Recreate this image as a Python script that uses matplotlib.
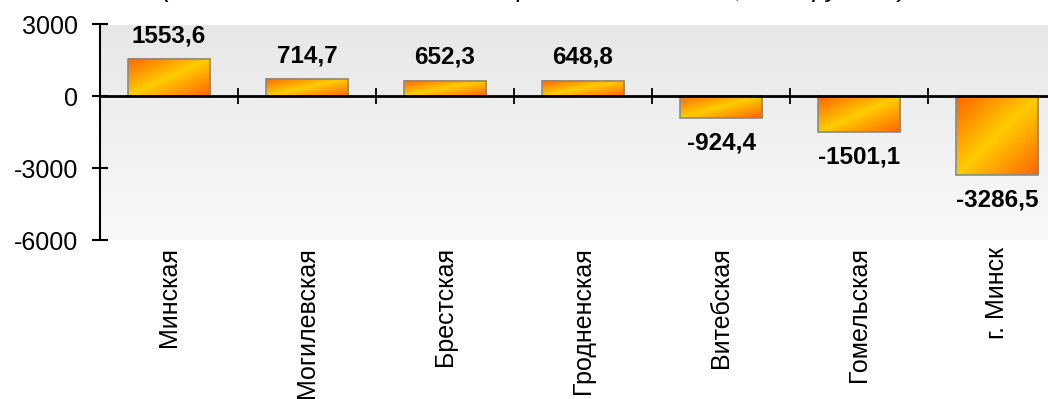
import matplotlib
matplotlib.use("Agg")
import matplotlib.pyplot as plt
import numpy as np
from matplotlib.colors import LinearSegmentedColormap

regions = ["Минская", "Могилевская", "Брестская", "Гродненская",
           "Витебская", "Гомельская", "г. Минск"]
values = [1553.6, 714.7, 652.3, 648.8, -924.4, -1501.1, -3286.5]
value_labels = ["1553,6", "714,7", "652,3", "648,8", "-924,4", "-1501,1", "-3286,5"]
y_ticks = [-6000, -3000, 0, 3000]
title = "(отклонение областей от среднего значения, млн. рублей)"

plt.rcParams["font.family"] = ["Liberation Sans", "DejaVu Sans"]
fs = 18

fig = plt.figure(figsize=(10.48, 3.99), dpi=100)
ax = fig.add_axes([100 / 1048, 159 / 399, 966 / 1048, 215.5 / 399])

# plot area background, light gray fading to white
bg_cmap = LinearSegmentedColormap.from_list("bg", ["#e7e7e7", "#f9f9f9"])
ax.imshow(np.linspace(0, 1, 256).reshape(-1, 1), cmap=bg_cmap, aspect="auto",
          extent=(0, 1, 0, 1), transform=ax.transAxes, zorder=0)

# bars with diagonal orange-yellow-orange fill
bar_cmap = LinearSegmentedColormap.from_list("bar", ["#ff6400", "#ffcc00", "#ff6400"])
n = 200
uu, ww = np.meshgrid(np.linspace(0, 1, n), np.linspace(0, 1, n))
grad = (uu + ww) / 2

x = np.arange(len(regions))
bars = ax.bar(x, values, width=0.6, facecolor="none", edgecolor="#8a8a8a",
              linewidth=1.2, zorder=3)
for b in bars:
    x0, y0 = b.get_x(), b.get_y()
    x1, y1 = x0 + b.get_width(), y0 + b.get_height()
    ax.imshow(grad, cmap=bar_cmap, aspect="auto", origin="upper",
              extent=(x0, x1, min(y0, y1), max(y0, y1)), zorder=2,
              interpolation="bilinear")

for xi, v, lab in zip(x, values, value_labels):
    off = 12 if v >= 0 else -13
    ax.annotate(lab, (xi, v), xytext=(0, off), textcoords="offset pixels",
                ha="center", va="bottom" if v >= 0 else "top",
                fontsize=17.5, fontweight="bold", zorder=5)

for xi, name in zip(x, regions):
    ax.annotate(name, (xi, 0), xycoords=("data", "axes fraction"),
                xytext=(0, -7), textcoords="offset pixels",
                ha="center", va="top", rotation=90, fontsize=fs,
                annotation_clip=False)

ax.set_xlim(-0.5, len(regions) - 0.5)
ax.set_ylim(-6000, 3000)
ax.set_yticks(y_ticks)
ax.set_yticklabels([str(t) for t in y_ticks])

ax.spines["top"].set_visible(False)
ax.spines["right"].set_visible(False)
ax.spines["left"].set_linewidth(1.5)
ax.spines["bottom"].set_position(("data", 0))
ax.spines["bottom"].set_linewidth(2)
ax.spines["bottom"].set_zorder(4)

ax.set_xticks(x[:-1] + 0.5)
ax.set_xticklabels([])
ax.tick_params(axis="x", direction="inout", length=12, width=1.3)
ax.tick_params(axis="y", direction="inout", length=11.5, width=1.5,
               labelsize=fs, pad=10)

fig.text(0.51, 1.0 + 3 / 399, title, ha="center", va="baseline",
         fontsize=19, style="italic")

fig.savefig("out.png", dpi=100)
